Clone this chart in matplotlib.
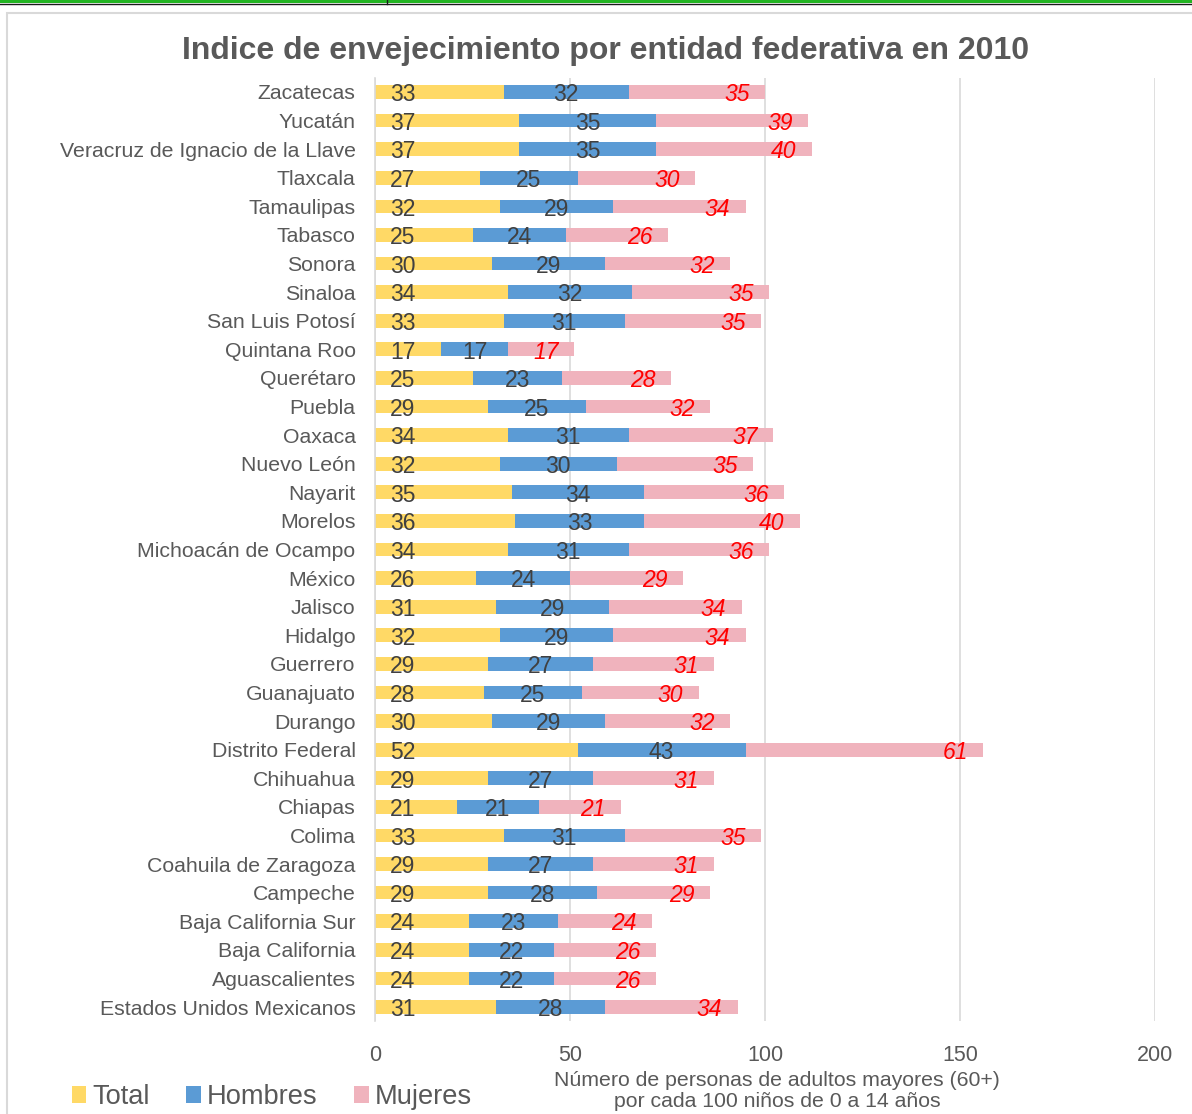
import matplotlib
matplotlib.use("Agg")
import matplotlib.pyplot as plt
from matplotlib.patches import Patch, Rectangle
from matplotlib.lines import Line2D

plt.rcParams['font.family'] = ['Liberation Sans', 'DejaVu Sans']

categories = ["Zacatecas", "Yucatán", "Veracruz de Ignacio de la Llave", "Tlaxcala",
              "Tamaulipas", "Tabasco", "Sonora", "Sinaloa", "San Luis Potosí",
              "Quintana Roo", "Querétaro", "Puebla", "Oaxaca", "Nuevo León", "Nayarit",
              "Morelos", "Michoacán de Ocampo", "México", "Jalisco", "Hidalgo",
              "Guerrero", "Guanajuato", "Durango", "Distrito Federal", "Chihuahua",
              "Chiapas", "Colima", "Coahuila de Zaragoza", "Campeche",
              "Baja California Sur", "Baja California", "Aguascalientes",
              "Estados Unidos Mexicanos"]
total = [33, 37, 37, 27, 32, 25, 30, 34, 33, 17, 25, 29, 34, 32, 35, 36, 34, 26, 31, 32,
         29, 28, 30, 52, 29, 21, 33, 29, 29, 24, 24, 24, 31]
hombres = [32, 35, 35, 25, 29, 24, 29, 32, 31, 17, 23, 25, 31, 30, 34, 33, 31, 24, 29, 29,
           27, 25, 29, 43, 27, 21, 31, 27, 28, 23, 22, 22, 28]
mujeres = [35, 39, 40, 30, 34, 26, 32, 35, 35, 17, 28, 32, 37, 35, 36, 40, 36, 29, 34, 34,
           31, 30, 32, 61, 31, 21, 35, 31, 29, 24, 26, 26, 34]
xticks = [0, 50, 100, 150, 200]
series_names = ["Total", "Hombres", "Mujeres"]
title = "Indice de envejecimiento por entidad federativa en 2010"
xlabel = "Número de personas de adultos mayores (60+)\npor cada 100 niños de 0 a 14 años"

c_total = "#FFD966"
c_hom = "#5B9BD5"
c_muj = "#F0B3BD"
grid_c = "#D9D9D9"
txt_c = "#595959"
lab_c = "#404040"

W, H = 1192, 1114
fig = plt.figure(figsize=(W / 100, H / 100), dpi=100)

# document artifacts / chart border
fig.add_artist(Rectangle((0, 1 - 3 / H), 1, 3 / H, transform=fig.transFigure,
                         facecolor="#22B422", edgecolor="none"))
fig.add_artist(Line2D([0, 1], [1 - 3.5 / H, 1 - 3.5 / H], transform=fig.transFigure,
                      color="#1a1a1a", lw=1))
fig.add_artist(Line2D([387 / W, 387 / W], [1 - 4 / H, 1], transform=fig.transFigure,
                      color="#1a1a1a", lw=1))
fig.add_artist(Rectangle((7.5 / W, -0.01), 1.2, 1 - 12.5 / H + 0.01, transform=fig.transFigure,
                         facecolor="none", edgecolor="#D9D9D9", lw=1.5))

n = len(categories)
ax = fig.add_axes([375 / W, 1 - 1021.3 / H, (1155 - 375) / W, (1021.3 - 77.7) / H])
y = list(range(n - 1, -1, -1))
bh = 0.48
left2 = [t for t in total]
left3 = [t + h for t, h in zip(total, hombres)]
ax.barh(y, total, height=bh, color=c_total, label=series_names[0])
ax.barh(y, hombres, left=left2, height=bh, color=c_hom, label=series_names[1])
ax.barh(y, mujeres, left=left3, height=bh, color=c_muj, label=series_names[2])

fs_lab = 16.5
for yi, t, h, m, l3 in zip(y, total, hombres, mujeres, left3):
    ax.annotate(str(t), (0, yi), xytext=(11, -2), textcoords="offset points",
                ha="left", va="center", fontsize=fs_lab, color=lab_c)
    ax.annotate(str(h), (t + h / 2, yi), xytext=(0, -2), textcoords="offset points",
                ha="center", va="center", fontsize=fs_lab, color=lab_c)
    ax.annotate(str(m), (l3 + m, yi), xytext=(-11, -2), textcoords="offset points",
                ha="right", va="center", fontsize=fs_lab, color="#FF0000", style="italic")

ax.set_xlim(0, 200)
ax.set_ylim(-0.5, n - 0.5)
ax.set_yticks(y)
ax.set_yticklabels(categories, fontsize=15.3, color=txt_c)
ax.set_xticks(xticks)
ax.set_xticklabels([str(v) for v in xticks], fontsize=15.5, color=txt_c)
ax.tick_params(axis="y", length=0, pad=14)
ax.tick_params(axis="x", length=0, pad=17)
for s in ["top", "right", "bottom"]:
    ax.spines[s].set_visible(False)
ax.spines["left"].set_color(grid_c)
ax.spines["left"].set_linewidth(1.2)
ax.xaxis.grid(True, color=grid_c, lw=1.2)
ax.set_axisbelow(True)

fig.text(606 / W, 1 - 51 / H, title, ha="center", va="center", fontsize=23,
         fontweight="bold", color=txt_c)
fig.text(777 / W, 1 - 1091 / H, xlabel, ha="center", va="center", fontsize=15.3,
         color=txt_c, linespacing=1.17)

handles = [Patch(facecolor=c_total), Patch(facecolor=c_hom), Patch(facecolor=c_muj)]
fig.legend(handles, series_names, loc="center left", bbox_to_anchor=(47 / W, 1 - 1097 / H),
           ncol=3, frameon=False, fontsize=19.6, handlelength=0.55, handleheight=0.55,
           handletextpad=0.2, columnspacing=1.35, labelcolor=txt_c)

fig.savefig("out.png", dpi=100)
